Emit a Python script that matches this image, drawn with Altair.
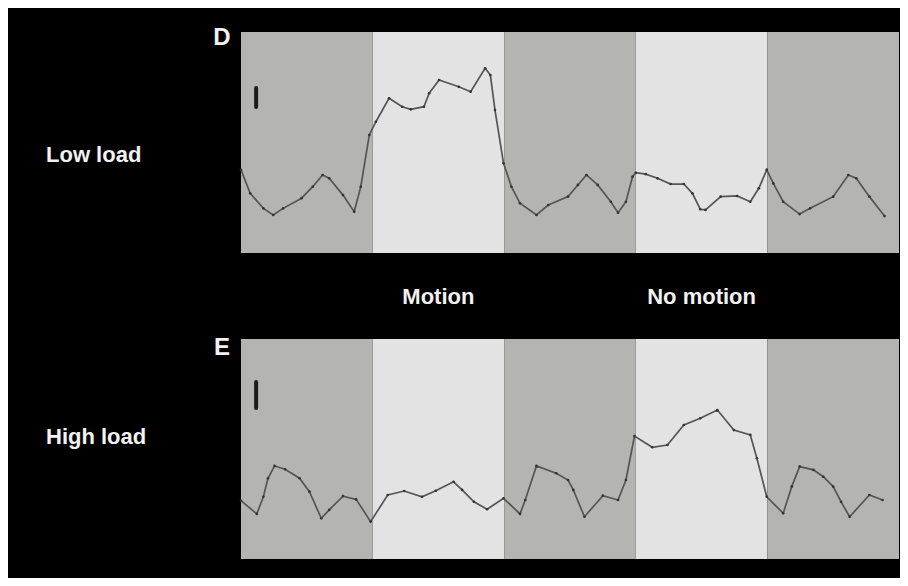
import altair as alt
import pandas as pd

# ---- data ----
block_start = [0, 20, 40, 60, 80]
block_end = [20, 40, 60, 80, 100]
block_shade = ["dark", "light", "dark", "light", "dark"]

cond_labels = ["Motion", "No motion"]
cond_center = [30, 70]

# Panel D (Low load)
d_t = [0, 1.4, 3.4, 4.9, 6.4, 9.2, 10.9, 12.4, 13.4, 15.5,
       17.2, 18.2, 19.5, 20.5, 22.5, 24.5, 25.8, 27.8, 28.6, 30.1,
       33.1, 34.9, 37.1, 37.9, 38.6, 39.9, 41.1, 42.4, 44.9, 46.7,
       49.7, 51.2, 52.5, 54.2, 56.2, 57.3, 58.5, 59.5, 60.0, 61.5,
       63.3, 65.3, 67.3, 68.6, 69.8, 70.6, 72.9, 75.4, 77.4, 78.7,
       79.9, 80.9, 82.4, 84.9, 86.5, 90.0, 92.3, 93.5, 95.5, 97.8]
d_v = [37.6, 27.0, 20.2, 17.2, 20.2, 24.8, 30.0, 35.3, 33.8, 26.2,
       18.7, 30.0, 53.4, 59.4, 70.0, 66.2, 65.0, 66.2, 72.3, 78.3,
       75.2, 73.0, 83.6, 80.5, 64.7, 40.6, 30.0, 22.5, 17.2, 21.7,
       25.5, 30.8, 35.3, 30.8, 23.2, 18.2, 23.2, 34.5, 36.3, 35.7,
       33.8, 31.2, 31.2, 27.0, 19.8, 19.5, 25.5, 25.8, 23.2, 29.3,
       37.6, 31.5, 23.2, 17.6, 20.2, 25.5, 35.3, 33.8, 25.5, 16.7]

# Panel E (High load)
e_t = [0, 2.4, 3.4, 4.1, 5.1, 6.7, 8.9, 10.4, 12.2, 13.4,
       15.5, 17.5, 19.7, 22.3, 24.8, 27.5, 29.6, 32.3, 33.6, 35.4,
       37.4, 39.9, 42.4, 43.2, 44.9, 47.9, 49.7, 50.5, 52.2, 55.0,
       57.3, 58.5, 59.8, 62.5, 64.8, 67.3, 69.8, 72.4, 74.9, 77.4,
       78.4, 79.9, 82.4, 83.7, 84.9, 87.0, 88.5, 90.0, 91.2, 92.5,
       95.5, 97.5]
e_v = [26.5, 20.5, 28.3, 36.7, 42.3, 40.8, 36.7, 30.6, 18.5, 22.3,
       28.6, 27.1, 17.0, 29.1, 30.9, 28.3, 31.0, 35.1, 31.4, 26.0,
       22.6, 27.6, 20.5, 26.8, 42.3, 39.0, 35.9, 31.4, 19.2, 28.8,
       26.8, 35.9, 55.9, 50.8, 51.8, 60.9, 64.0, 67.7, 58.6, 56.4,
       45.8, 28.3, 20.8, 32.9, 42.0, 40.5, 37.4, 32.9, 26.0, 19.2,
       29.1, 26.8]

# scale bars (position in time, low/high signal)
bar_t = 2.3
d_bar = [66.1, 74.7]
e_bar = [68.6, 80.5]

W = 658
LEFT = 233
FONT = "Liberation Sans"
TXT = "#f2f2f2"

xscale = alt.Scale(domain=[0, 100], nice=False, zero=False)
yscale = alt.Scale(domain=[0, 100], nice=False, zero=False)

bands_df = pd.DataFrame({"start": block_start, "end": block_end, "shade": block_shade})


def panel(t, v, bar, letter, load, h, top_ext, bottom_ext, letter_y, load_y, with_cond=False):
    frame = alt.Chart(pd.DataFrame({"k": [0]})).mark_rect(color="black").encode(
        x=alt.value(-LEFT), x2=alt.value(W + 1),
        y=alt.value(-top_ext), y2=alt.value(h + bottom_ext),
    )
    bands = alt.Chart(bands_df).mark_rect().encode(
        x=alt.X("start:Q", scale=xscale, axis=None),
        x2="end:Q",
        y=alt.value(0), y2=alt.value(h),
        color=alt.Color("shade:N",
                        scale=alt.Scale(domain=["dark", "light"], range=["#b4b4b2", "#e3e3e3"]),
                        legend=None),
    )
    sb = alt.Chart(pd.DataFrame({"t": [bar_t], "lo": [bar[0]], "hi": [bar[1]]})).mark_rule(
        color="#1c1c1c", strokeWidth=4, strokeCap="round"
    ).encode(
        x=alt.X("t:Q", scale=xscale, axis=None),
        y=alt.Y("lo:Q", scale=yscale, axis=None),
        y2="hi:Q",
    )
    df = pd.DataFrame({"t": t, "v": v})
    line = alt.Chart(df).mark_line(color="#555555", strokeWidth=1.7).encode(
        x=alt.X("t:Q", scale=xscale, axis=None),
        y=alt.Y("v:Q", scale=yscale, axis=None),
    )
    pts = alt.Chart(df).mark_point(filled=True, color="#333333", size=7, opacity=1).encode(
        x=alt.X("t:Q", scale=xscale, axis=None),
        y=alt.Y("v:Q", scale=yscale, axis=None),
    )
    letter_t = alt.Chart(pd.DataFrame({"s": [letter]})).mark_text(
        font=FONT, fontWeight="bold", fontSize=24, color=TXT, align="center", baseline="middle"
    ).encode(x=alt.value(-19), y=alt.value(letter_y), text="s:N")
    load_t = alt.Chart(pd.DataFrame({"s": [load]})).mark_text(
        font=FONT, fontWeight="bold", fontSize=22, color=TXT, align="left", baseline="middle"
    ).encode(x=alt.value(-195), y=alt.value(load_y), text="s:N")
    layers = [frame, bands, sb, line, pts, letter_t, load_t]
    if with_cond:
        cond = alt.Chart(pd.DataFrame({"t": cond_center, "s": cond_labels})).mark_text(
            font=FONT, fontWeight="bold", fontSize=22, color=TXT, align="center", baseline="middle"
        ).encode(x=alt.X("t:Q", scale=xscale, axis=None), y=alt.value(265), text="s:N")
        layers.append(cond)
    return alt.layer(*layers).properties(width=W, height=h)


top = panel(d_t, d_v, d_bar, "D", "Low load", 221, 24, 60, 6, 123, with_cond=True)
bottom = panel(e_t, e_v, e_bar, "E", "High load", 220, 26, 19, 9, 98)

chart = alt.vconcat(top, bottom, spacing=0).properties(
    padding=0, background="black"
).configure_view(strokeWidth=0)

chart.save("out.html", embed_options={"renderer": "svg", "actions": False})
